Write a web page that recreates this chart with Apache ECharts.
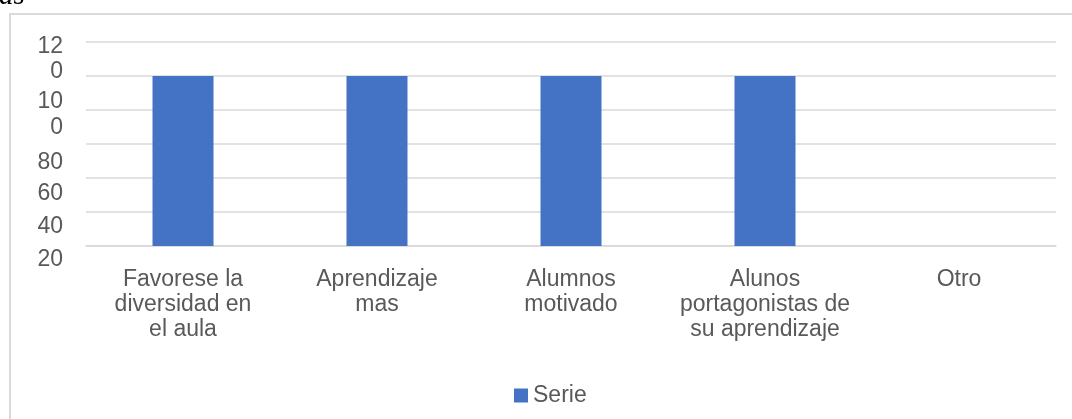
<!DOCTYPE html>
<html>
<head>
<meta charset="utf-8">
<title>Serie</title>
<script src="https://cdn.jsdelivr.net/npm/echarts@6/dist/echarts.min.js"></script>
<style>
  html, body { margin: 0; padding: 0; background: #fff; }
  #chart { width: 1072px; height: 419px; }
</style>
</head>
<body>
<div id="chart"></div>
<script>
const categories = [
  'Favorese la\ndiversidad en\nel aula',
  'Aprendizaje\nmas',
  'Alumnos\nmotivado',
  'Alunos\nportagonistas de\nsu aprendizaje',
  'Otro'
]
const serieValues = [100, 100, 100, 100, 0]
const yTickValues = [120, 100, 80, 60, 40, 20]
// the original labels wrap onto two lines ("12" / "0")
const yTickText = [['12', '0'], ['10', '0'], ['80'], ['60'], ['40'], ['20']]

// vertical shift of each label's lines (padding-top, px), to sit where the picture has them
const labelShift = [[35, 2], [78, 3], [106], [100], [98], [96]]

const textColor = '#595959'
const gridColor = '#d9d9d9'
const font = 'Arial, "Liberation Sans", sans-serif'

const rich = {}
yTickValues.forEach((v, i) => {
  labelShift[i].forEach((p, j) => {
    rich['t' + i + 'l' + j] = { padding: [p, 0, 0, 0], fontSize: 23, fontFamily: font, color: textColor, align: 'right' }
  })
})

const chart = echarts.init(document.getElementById('chart'))
chart.setOption({
  animation: false,
  graphic: [
    {
      type: 'rect',
      shape: { x: 10, y: 14, width: 1100, height: 500 },
      style: { fill: 'none', stroke: gridColor, lineWidth: 2 }
    },
    {
      type: 'text',
      left: -1,
      top: -18,
      style: { text: 'as', font: 'italic 29px "Liberation Serif", "DejaVu Serif", serif', fill: '#000' }
    }
  ],
  legend: {
    left: 509,
    top: 379,
    itemWidth: 14,
    itemHeight: 14,
    itemGap: 10,
    icon: 'rect',
    textStyle: { fontSize: 23, fontFamily: font, color: textColor },
    data: ['Serie']
  },
  grid: { left: 86, right: 16, top: 42, bottom: 173, outerBoundsMode: 'none' },
  xAxis: {
    type: 'category',
    data: categories,
    axisLine: { lineStyle: { color: gridColor, width: 1.5 } },
    axisTick: { show: false },
    axisLabel: {
      interval: 0,
      margin: 21,
      fontSize: 23,
      lineHeight: 25,
      fontFamily: font,
      color: textColor
    }
  },
  yAxis: {
    type: 'value',
    min: 0,
    max: 120,
    interval: 20,
    axisLine: { show: false },
    axisTick: { show: false },
    splitLine: { lineStyle: { color: gridColor, width: 1.5 } },
    axisLabel: {
      margin: 23,
      fontSize: 23,
      fontFamily: font,
      color: textColor,
      formatter: v => {
        const i = yTickValues.indexOf(v)
        if (i < 0) return ''
        return yTickText[i].map((s, j) => '{t' + i + 'l' + j + '|' + s + '}').join('\n')
      },
      rich
    }
  },
  series: [{
    name: 'Serie',
    type: 'bar',
    data: serieValues,
    barWidth: 61,
    itemStyle: { color: '#4472c4' }
  }]
})
</script>
</body>
</html>
